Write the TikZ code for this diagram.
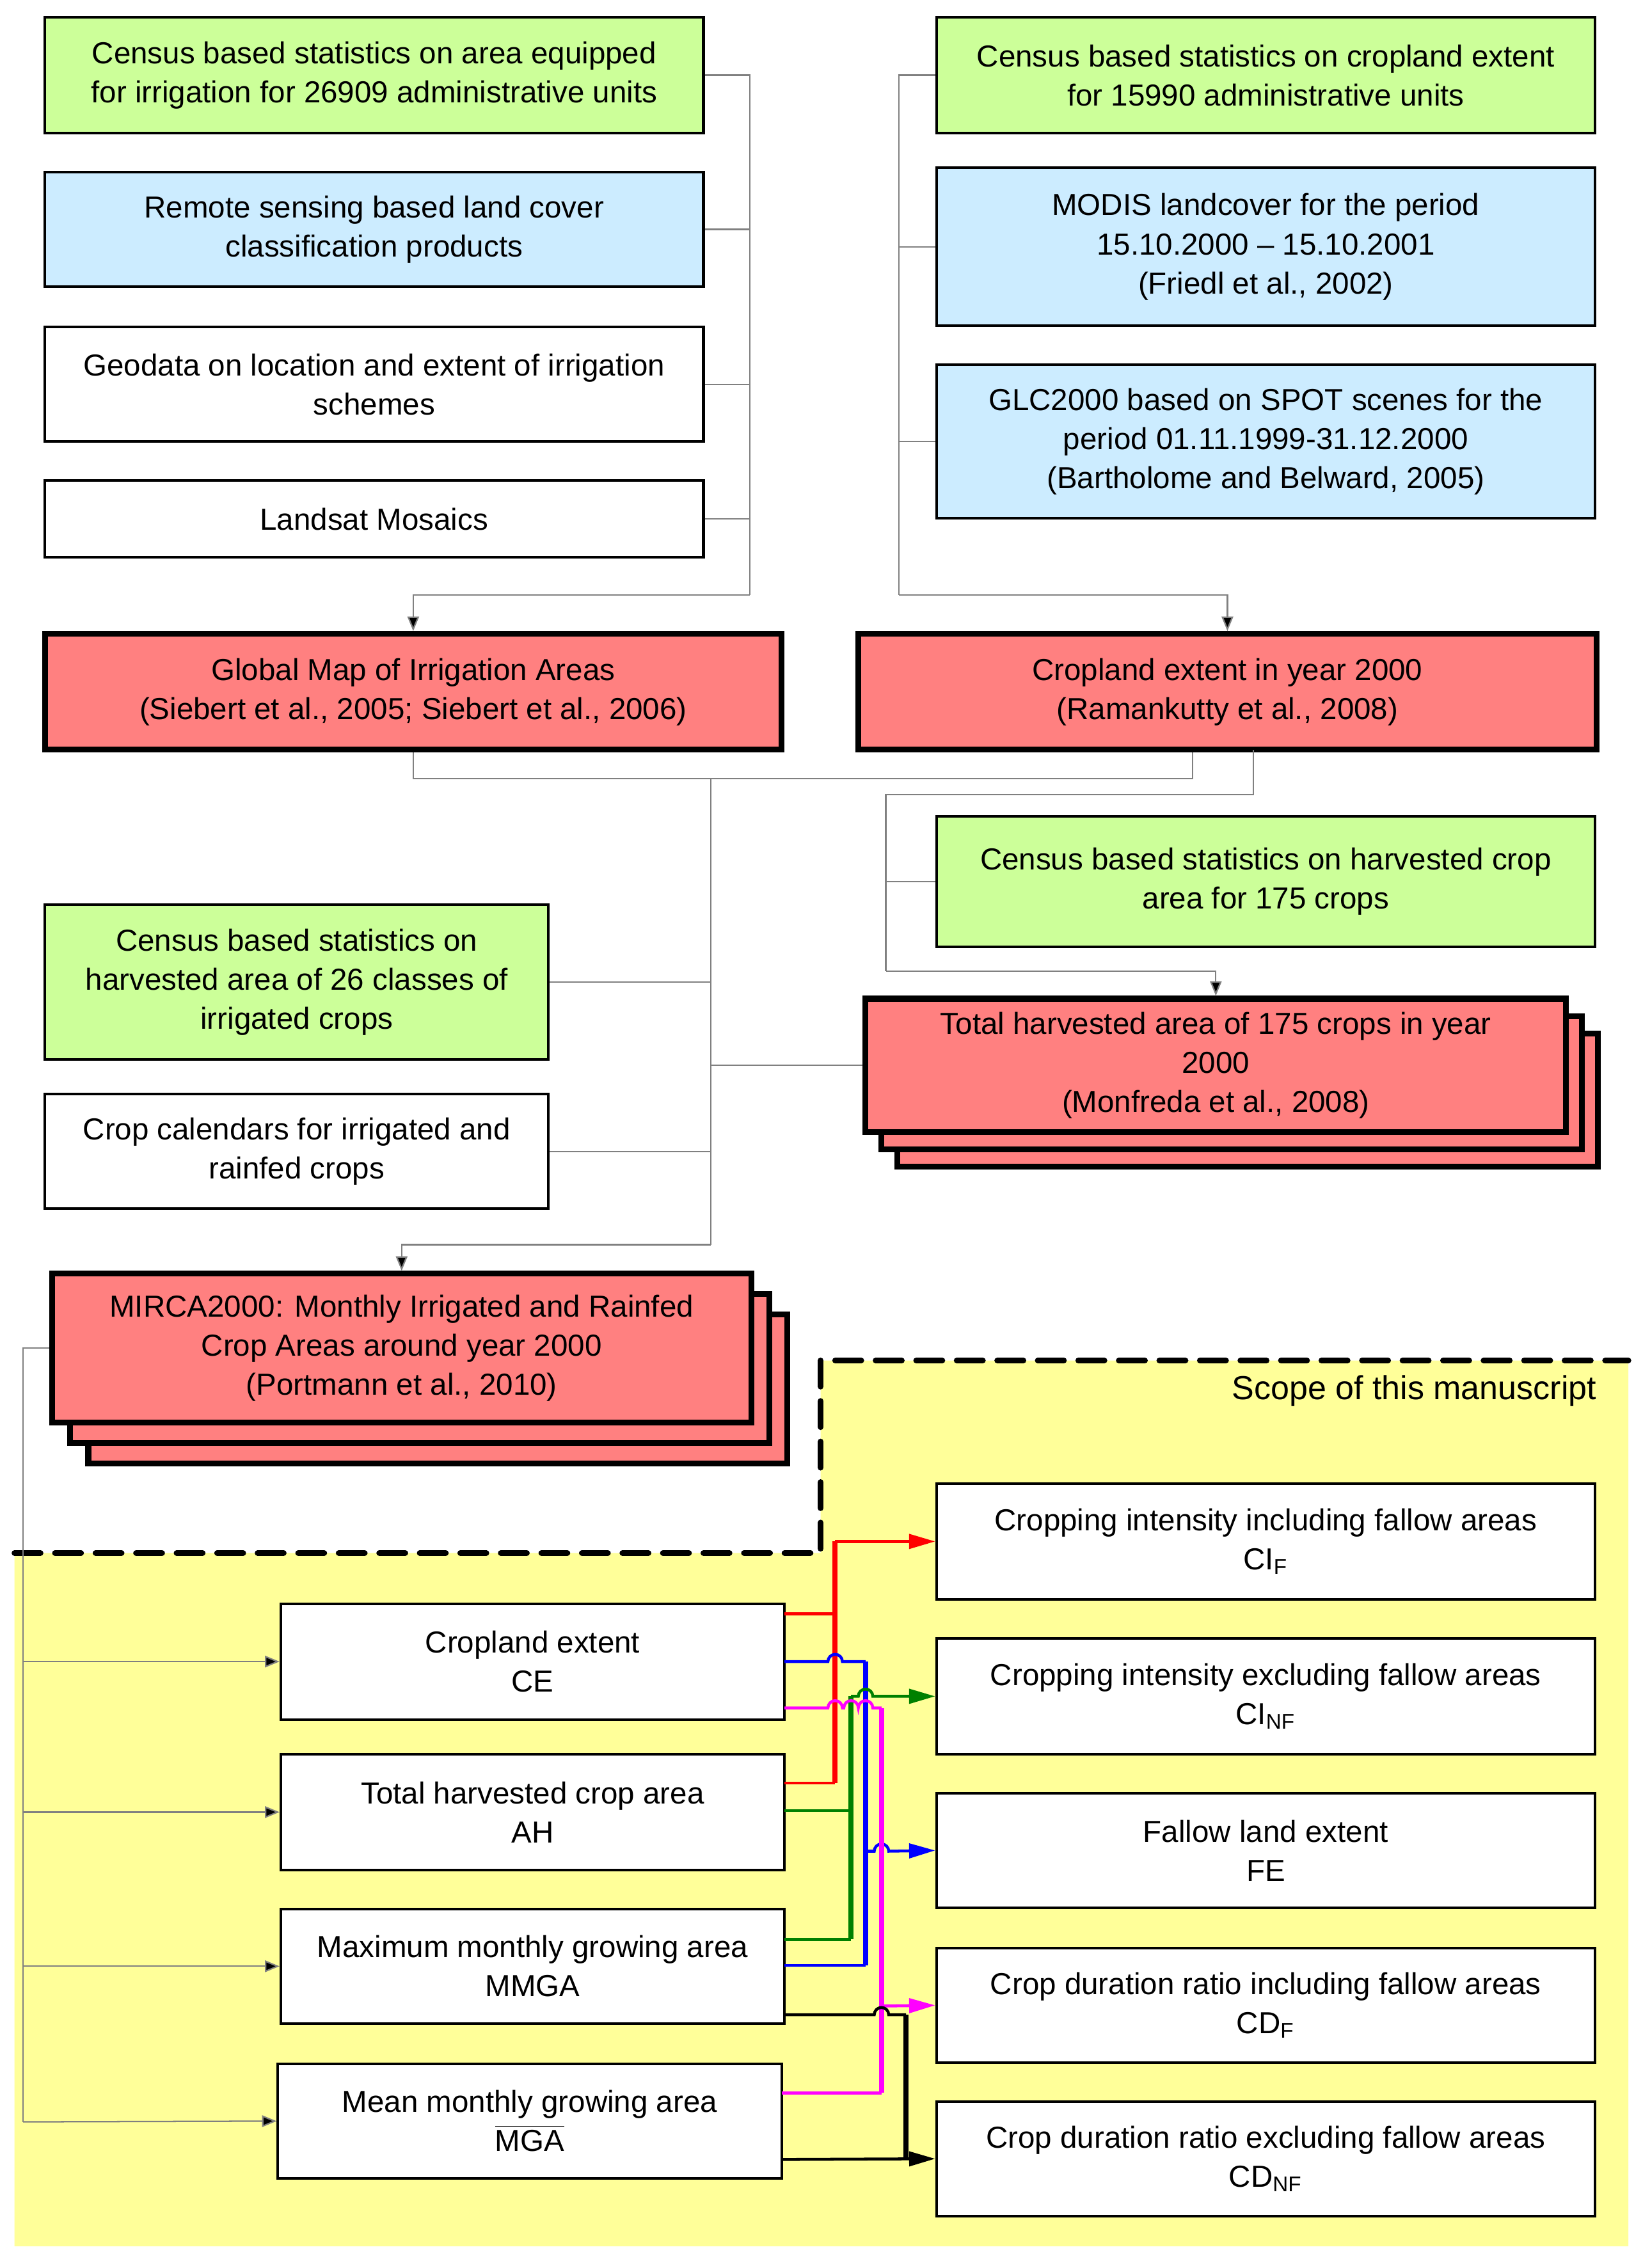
\documentclass[tikz,border=0pt]{standalone}
\usepackage{fontspec}
\setmainfont{Liberation Sans}
\usetikzlibrary{arrows.meta}
\definecolor{cgreen}{RGB}{204,255,153}
\definecolor{cblue}{RGB}{204,236,255}
\definecolor{cred}{RGB}{255,128,128}
\definecolor{cyel}{RGB}{255,255,153}
\definecolor{cmag}{RGB}{255,0,255}
\definecolor{cgrn}{RGB}{0,128,0}
\begin{document}
\begin{tikzpicture}[x=0.5pt,y=-0.5pt,
 box/.style={draw=black,line width=0.9pt,align=center,inner sep=0pt,font=\fontsize{10.5}{13.5}\selectfont},
 big/.style={box,line width=2pt,fill=cred},
 con/.style={draw=black!50,line width=0.5pt},
 tip/.style={-{Triangle[length=5pt,width=4pt,fill=black]}},
 col/.style={line width=1pt},
 vc/.style={line width=1.8pt},
 ctip/.style={-{Triangle[length=9pt,width=5pt]}}]
\useasboundingbox (0,0) rectangle (1135,1567);
% yellow scope
\fill[cyel] (10,1073) -- (567,1073) -- (567,940) -- (1125,940) -- (1125,1552) -- (10,1552) -- cycle;
\draw[line width=2pt,dash pattern=on 9pt off 5pt,line cap=round] (10,1073) -- (567,1073) -- (567,940) -- (1125,940);
\node[anchor=east,font=\fontsize{11.5}{14}\selectfont] (scope) at (1110,961) {Scope of this manuscript};
% top left
\node[box,fill=cgreen,minimum width=227.5pt,minimum height=40pt] (A1) at (258.5,52) {Census based statistics on area equipped\\for irrigation for 26909 administrative units};
\node[box,fill=cblue,minimum width=227.5pt,minimum height=39.5pt] (A2) at (258.5,158.5) {Remote sensing based land cover\\classification products};
\node[box,fill=white,minimum width=227.5pt,minimum height=39.5pt] (A3) at (258.5,265.5) {Geodata on location and extent of irrigation\\schemes};
\node[box,fill=white,minimum width=227.5pt,minimum height=26.5pt] (A4) at (258.5,358.5) {Landsat Mosaics};
% top right
\node[box,fill=cgreen,minimum width=227.5pt,minimum height=40pt] (B1) at (874.5,52) {Census based statistics on cropland extent\\for 15990 administrative units};
\node[box,fill=cblue,minimum width=227.5pt,minimum height=54.5pt] (B2) at (874.5,170.5) {MODIS landcover for the period\\15.10.2000 -- 15.10.2001\\(Friedl et al., 2002)};
\node[box,fill=cblue,minimum width=227.5pt,minimum height=53pt] (B3) at (874.5,305) {GLC2000 based on SPOT scenes for the\\period 01.11.1999-31.12.2000\\(Bartholome and Belward, 2005)};
% red
\node[big,minimum width=254.5pt,minimum height=40pt] (GM) at (285.5,478) {Global Map of Irrigation Areas\\(Siebert et al., 2005; Siebert et al., 2006)};
\node[big,minimum width=255pt,minimum height=40pt] (CR) at (848,478) {Cropland extent in year 2000\\(Ramankutty et al., 2008)};
\node[box,fill=cgreen,minimum width=227.5pt,minimum height=45pt] (C1) at (874.5,609) {Census based statistics on harvested crop\\area for 175 crops};
\node[box,fill=cgreen,minimum width=174pt,minimum height=53.5pt] (C2) at (205,678.5) {Census based statistics on\\harvested area of 26 classes of\\irrigated crops};
\node[box,fill=white,minimum width=174pt,minimum height=39.5pt] (C3) at (205,795.5) {Crop calendars for irrigated and\\rainfed crops};
\node[big,minimum width=242pt,minimum height=46pt] (T3) at (862,760) {};
\node[big,minimum width=242pt,minimum height=46pt] (T2) at (851,748) {};
\node[big,minimum width=242pt,minimum height=46pt] (TH) at (840,736) {Total harvested area of 175 crops in year\\2000\\(Monfreda et al., 2008)};
\node[big,minimum width=241.5pt,minimum height=51.5pt] (M3) at (302.5,959.5) {};
\node[big,minimum width=241.5pt,minimum height=51.5pt] (M2) at (290,945.5) {};
\node[big,minimum width=241.5pt,minimum height=51.5pt] (MI) at (277.5,931.5) {MIRCA2000: Monthly Irrigated and Rainfed\\Crop Areas around year 2000\\(Portmann et al., 2010)};
% bottom boxes
\node[box,fill=white,minimum width=174pt,minimum height=40pt] (D1) at (368,1148) {Cropland extent\\CE};
\node[box,fill=white,minimum width=174pt,minimum height=40pt] (D2) at (368,1252) {Total harvested crop area\\AH};
\node[box,fill=white,minimum width=174pt,minimum height=39.5pt] (D3) at (368,1358.5) {Maximum monthly growing area\\MMGA};
\node[box,fill=white,minimum width=174pt,minimum height=39.5pt] (D4) at (366,1465.5) {Mean monthly growing area\\$\overline{\mbox{MGA}}$};
\node[box,fill=white,minimum width=227.5pt,minimum height=40pt] (E1) at (874.5,1065) {Cropping intensity including fallow areas\\CI\textsubscript{F}};
\node[box,fill=white,minimum width=227.5pt,minimum height=40pt] (E2) at (874.5,1172) {Cropping intensity excluding fallow areas\\CI\textsubscript{NF}};
\node[box,fill=white,minimum width=227.5pt,minimum height=39.5pt] (E3) at (874.5,1278.5) {Fallow land extent\\FE};
\node[box,fill=white,minimum width=227.5pt,minimum height=39.5pt] (E4) at (874.5,1385.5) {Crop duration ratio including fallow areas\\CD\textsubscript{F}};
\node[box,fill=white,minimum width=227.5pt,minimum height=39.5pt] (E5) at (874.5,1491.5) {Crop duration ratio excluding fallow areas\\CD\textsubscript{NF}};
% top connectors
\coordinate (jA) at (518,411);
\coordinate (jB) at (621,411);
\draw[con] (A1.east) -| (jA);
\draw[con] (A2.east) -- (A2.east -| jA);
\draw[con] (A3.east) -- (A3.east -| jA);
\draw[con] (A4.east) -- (A4.east -| jA);
\draw[con,tip] (jA) -| (GM.north);
\draw[con] (B1.west) -| (jB);
\draw[con] (B2.west) -- (B2.west -| jB);
\draw[con] (B3.west) -- (B3.west -| jB);
\draw[con,tip] (jB) -| (CR.north);
% middle
\coordinate (m1) at (824,538);
\coordinate (jM) at (491,860);
\coordinate (jT) at (612,671);
\draw[con] (GM.south) |- (m1) -- (m1 |- CR.south);
\draw[con] (491,538) -- (jM);
\draw[con,tip] (jM) -| (MI.north);
\draw[con] (C2.east) -- (C2.east -| jM);
\draw[con] (C3.east) -- (C3.east -| jM);
\draw[con] (TH.west) -- (TH.west -| jM);
\draw[con] (866,518) |- (612,549) -- (jT);
\draw[con] (C1.west) -- (C1.west -| jT);
\draw[con,tip] (jT) -| (TH.north);
% left to bottom
\coordinate (jL) at (16,1466);
\draw[con] (MI.west) -| (jL);
\draw[con,tip] (16,1148) -- (D1.west);
\draw[con,tip] (16,1252) -- (D2.west);
\draw[con,tip] (16,1358.5) -- (D3.west);
\draw[con,tip] (jL) -- (D4.west);
% coloured
\draw[red,col] (542,1115) -- (577,1115);
\draw[red,col] (542,1232) -- (577,1232);
\draw[red,vc] (577,1232) -- (577,1065);
\draw[red,col,ctip] (577,1065) -- (E1.west);
\draw[blue,col] (542,1148) -- (572,1148) arc[start angle=180,end angle=360,radius=5] -- (598,1148);
\draw[blue,col] (542,1358) -- (598,1358);
\draw[blue,vc] (598,1148) -- (598,1358);
\draw[blue,col,ctip] (598,1279) -- (604,1279) arc[start angle=180,end angle=360,radius=5] -- (E3.west);
\draw[cgrn,col] (542,1251) -- (588,1251);
\draw[cgrn,col] (542,1340) -- (588,1340);
\draw[cgrn,vc] (588,1340) -- (588,1172);
\draw[cgrn,col,ctip] (588,1172) -- (593,1172) arc[start angle=180,end angle=360,radius=5] -- (E2.west);
\draw[cmag,col] (542,1180) -- (572,1180) arc[start angle=180,end angle=360,radius=5] -- (583,1180) arc[start angle=180,end angle=360,radius=5] -- (593,1180) arc[start angle=180,end angle=360,radius=5] -- (609,1180);
\draw[cmag,vc] (609,1180) -- (609,1446);
\draw[cmag,col] (540,1446) -- (609,1446);
\draw[cmag,col,ctip] (609,1386) -- (E4.west);
\draw[black,col] (542,1392) -- (604,1392) arc[start angle=180,end angle=360,radius=5] -- (626,1392);
\draw[black,vc] (626,1392) -- (626,1492);
\draw[black,col,ctip] (540,1492) -- (E5.west);
\end{tikzpicture}
\end{document}
